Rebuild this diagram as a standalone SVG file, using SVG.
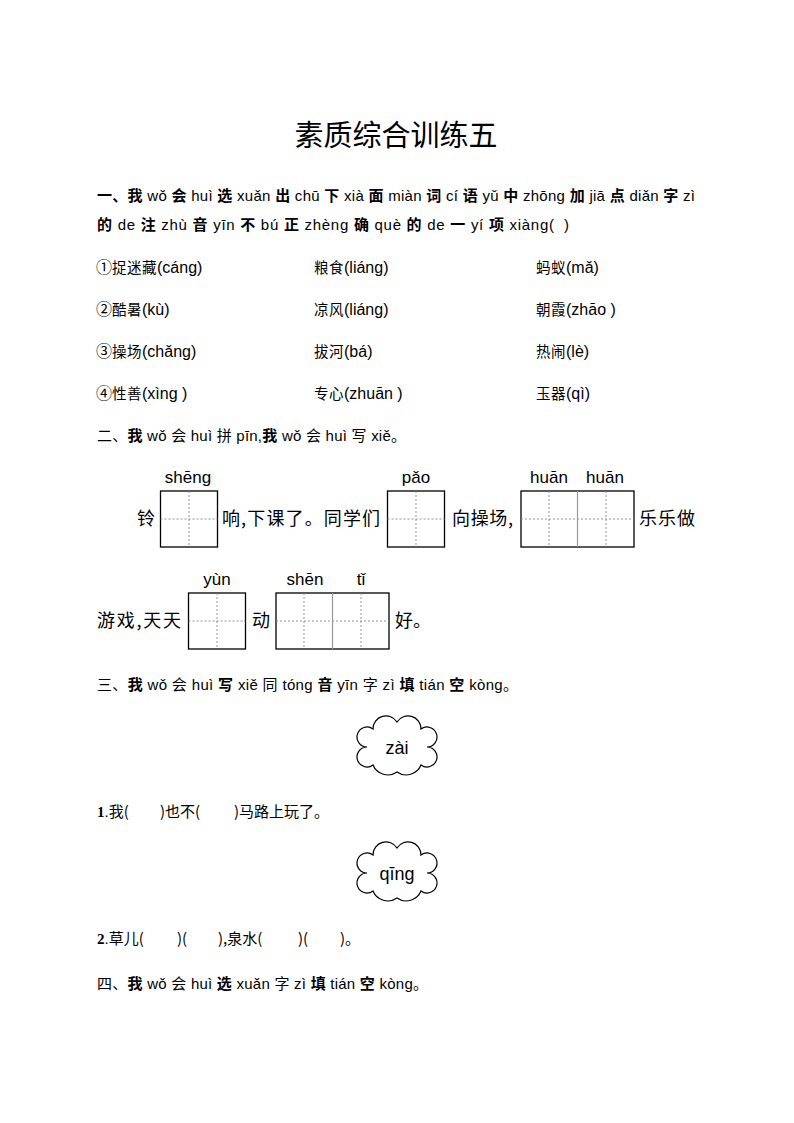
<svg xmlns="http://www.w3.org/2000/svg" xmlns:xlink="http://www.w3.org/1999/xlink" width="794" height="1123" viewBox="0 0 794 1123">
<defs>
<style>
.t{font-family:"Liberation Sans","Noto Sans CJK SC",sans-serif;font-size:15px;fill:#000}
.b{font-family:"Noto Sans CJK SC",sans-serif;font-weight:bold}
.c{font-family:"Noto Sans CJK SC",sans-serif}
.opt{font-family:"Liberation Sans","Noto Sans CJK SC",sans-serif;font-size:16px;fill:#000}
.oc{font-family:"Noto Sans CJK SC",sans-serif;font-size:14.5px;letter-spacing:0.5px}
.py{font-family:"Liberation Sans","DejaVu Sans",sans-serif;font-size:17px;fill:#000;text-anchor:middle}
.s{font-family:"Noto Sans CJK SC",sans-serif;font-size:18px;fill:#000}
.num{font-family:"Liberation Serif",serif;font-weight:bold}
.box{fill:#fff;stroke:#000;stroke-width:1.3}
.dash{stroke:#888;stroke-width:0.9;stroke-dasharray:2,2;fill:none}
.div{stroke:#999;stroke-width:1.2}
.cloud{fill:#fff;stroke:#000;stroke-width:1.2}
</style>
<path id="cloudshape" d="M373,729 A13,13 0 0 1 397,722 A13,13 0 0 1 421,729 A10,10 0 1 1 427,747 A10,10 0 1 1 421,765 A16,16 0 0 1 397,772 A16,16 0 0 1 373,765 A10,10 0 1 1 367,747 A10,10 0 1 1 373,729 Z"/>
</defs>
<rect width="794" height="1123" fill="#fff"/>

<g id="title">
<text x="396" y="146" font-family="Noto Sans CJK SC, sans-serif" font-size="29" text-anchor="middle" fill="#000">素质综合训练五</text>
</g>

<g id="q1">
<text class="t" x="97" y="201" textLength="598" lengthAdjust="spacing"><tspan class="b">一、我</tspan> wǒ <tspan class="b">会</tspan> huì <tspan class="b">选</tspan> xuǎn <tspan class="b">出</tspan> chū <tspan class="b">下</tspan> xià <tspan class="b">面</tspan> miàn <tspan class="b">词</tspan> cí <tspan class="b">语</tspan> yǔ <tspan class="b">中</tspan> zhōng <tspan class="b">加</tspan> jiā <tspan class="b">点</tspan> diǎn <tspan class="b">字</tspan> zì</text>
<text class="t" x="97" y="230" textLength="457" lengthAdjust="spacing"><tspan class="b">的</tspan> de <tspan class="b">注</tspan> zhù <tspan class="b">音</tspan> yīn <tspan class="b">不</tspan> bú <tspan class="b">正</tspan> zhèng <tspan class="b">确</tspan> què <tspan class="b">的</tspan> de <tspan class="b">一</tspan> yí <tspan class="b">项</tspan> xiàng(</text>
<text class="t" x="564" y="230">)</text>
</g>

<g id="options">
<text class="opt" x="96" y="273">①<tspan class="oc">捉迷藏</tspan>(cáng)</text>
<text class="opt" x="314" y="273"><tspan class="oc">粮食</tspan>(liáng)</text>
<text class="opt" x="536" y="273"><tspan class="oc">蚂蚁</tspan>(mǎ)</text>
<text class="opt" x="96" y="315">②<tspan class="oc">酷暑</tspan>(kù)</text>
<text class="opt" x="314" y="315"><tspan class="oc">凉风</tspan>(liáng)</text>
<text class="opt" x="536" y="315"><tspan class="oc">朝霞</tspan>(zhāo )</text>
<text class="opt" x="96" y="357">③<tspan class="oc">操场</tspan>(chǎng)</text>
<text class="opt" x="314" y="357"><tspan class="oc">拔河</tspan>(bá)</text>
<text class="opt" x="536" y="357"><tspan class="oc">热闹</tspan>(lè)</text>
<text class="opt" x="96" y="399">④<tspan class="oc">性善</tspan>(xìng )</text>
<text class="opt" x="314" y="399"><tspan class="oc">专心</tspan>(zhuān )</text>
<text class="opt" x="536" y="399"><tspan class="oc">玉器</tspan>(qì)</text>
</g>

<g id="q2">
<text class="t" x="97" y="441" textLength="309" lengthAdjust="spacing"><tspan class="c">二、</tspan><tspan class="b">我</tspan> wǒ <tspan class="c">会</tspan> huì <tspan class="c">拼</tspan> pīn,<tspan class="b">我</tspan> wǒ <tspan class="c">会</tspan> huì <tspan class="c">写</tspan> xiě<tspan class="c">。</tspan></text>
</g>

<g id="row1">
<text class="py" x="188" y="483">shēng</text>
<text class="py" x="416" y="483">pǎo</text>
<text class="py" x="549" y="483">huān</text>
<text class="py" x="605" y="483">huān</text>
<text class="s" x="137" y="525">铃</text>
<rect class="box" x="160.5" y="491" width="57" height="56"/>
<line class="dash" x1="189" y1="491" x2="189" y2="547"/>
<line class="dash" x1="160.5" y1="519" x2="217.5" y2="519"/>
<text class="s" x="222" y="525" textLength="158" lengthAdjust="spacing">响,下课了。同学们</text>
<rect class="box" x="387.5" y="491" width="57" height="56"/>
<line class="dash" x1="416" y1="491" x2="416" y2="547"/>
<line class="dash" x1="387.5" y1="519" x2="444.5" y2="519"/>
<text class="s" x="452" y="525" textLength="61" lengthAdjust="spacing">向操场,</text>
<rect class="box" x="521" y="491" width="113" height="56"/>
<line class="dash" x1="549" y1="491" x2="549" y2="547"/>
<line class="dash" x1="606" y1="491" x2="606" y2="547"/>
<line class="dash" x1="521" y1="519" x2="634" y2="519"/>
<line class="div" x1="577.5" y1="491" x2="577.5" y2="547"/>
<text class="s" x="639" y="525" textLength="56" lengthAdjust="spacing">乐乐做</text>
</g>

<g id="row2">
<text class="py" x="217" y="585">yùn</text>
<text class="py" x="305" y="585">shēn</text>
<text class="py" x="361" y="585">tǐ</text>
<text class="s" x="97" y="627" textLength="84" lengthAdjust="spacing">游戏,天天</text>
<rect class="box" x="188.5" y="593" width="57" height="56"/>
<line class="dash" x1="217" y1="593" x2="217" y2="649"/>
<line class="dash" x1="188.5" y1="621" x2="245.5" y2="621"/>
<text class="s" x="252" y="627">动</text>
<rect class="box" x="276" y="593" width="113" height="56"/>
<line class="dash" x1="304" y1="593" x2="304" y2="649"/>
<line class="dash" x1="361" y1="593" x2="361" y2="649"/>
<line class="dash" x1="276" y1="621" x2="389" y2="621"/>
<line class="div" x1="332.5" y1="593" x2="332.5" y2="649"/>
<text class="s" x="395" y="627">好。</text>
</g>

<g id="q3">
<text class="t" x="97" y="690" textLength="421" lengthAdjust="spacing"><tspan class="c">三、</tspan><tspan class="b">我</tspan> wǒ <tspan class="c">会</tspan> huì <tspan class="b">写</tspan> xiě <tspan class="c">同</tspan> tóng <tspan class="b">音</tspan> yīn <tspan class="c">字</tspan> zì <tspan class="b">填</tspan> tián <tspan class="b">空</tspan> kòng<tspan class="c">。</tspan></text>
</g>

<g id="cloud-zai">
<use xlink:href="#cloudshape" class="cloud"/>
<text x="397" y="754" font-family="Liberation Sans, sans-serif" font-size="18" text-anchor="middle" fill="#000">zài</text>
</g>

<g id="s1">
<text class="t" x="97" y="817"><tspan class="num">1</tspan>.<tspan class="c">我(</tspan></text>
<text class="t c" x="160" y="817">)也不(</text>
<text class="t c" x="234" y="817">)马路上玩了。</text>
</g>

<g id="cloud-qing">
<use xlink:href="#cloudshape" class="cloud" y="126"/>
<text x="397" y="880" font-family="Liberation Sans, sans-serif" font-size="18" text-anchor="middle" fill="#000">qīng</text>
</g>

<g id="s2">
<text class="t" x="97" y="944"><tspan class="num">2</tspan>.<tspan class="c">草儿(</tspan></text>
<text class="t c" x="177" y="944">)(</text>
<text class="t c" x="218" y="944">),泉水(</text>
<text class="t c" x="298" y="944">)(</text>
<text class="t c" x="340" y="944">)。</text>
</g>

<g id="q4">
<text class="t" x="97" y="989" textLength="331" lengthAdjust="spacing"><tspan class="c">四、</tspan><tspan class="b">我</tspan> wǒ <tspan class="c">会</tspan> huì <tspan class="b">选</tspan> xuǎn <tspan class="c">字</tspan> zì <tspan class="b">填</tspan> tián <tspan class="b">空</tspan> kòng<tspan class="c">。</tspan></text>
</g>
</svg>
